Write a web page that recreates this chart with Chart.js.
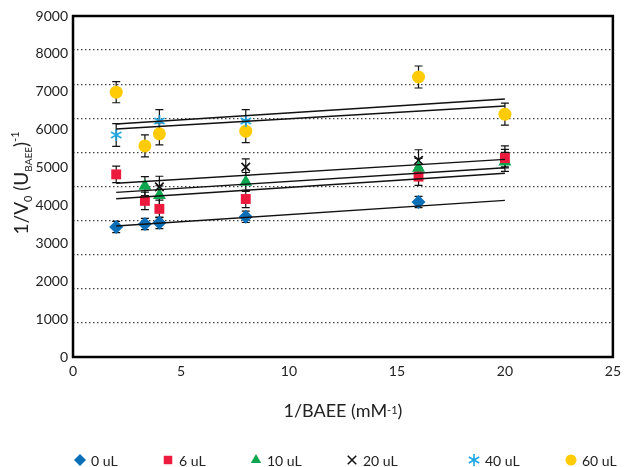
<!DOCTYPE html>
<html>
<head>
<meta charset="utf-8">
<script src="https://cdn.jsdelivr.net/npm/chart.js@4.4.1/dist/chart.umd.min.js"></script>
<style>
  html, body { margin: 0; padding: 0; background: #fff; }
</style>
</head>
<body>
<canvas id="myChart" width="627" height="467"></canvas>
<script>
// 1/BAEE values (mM-1)
const xValues = [2, 3.33, 4, 8, 16, 20];

// 1/V0 per inhibitor volume
const uL0  = [3430, 3510, 3540, 3700, 4090, null];
const uL6  = [4820, 4120, 3910, 4170, 4760, 5250];
const uL10 = [null, 4510, 4270, 4620, 4990, 5150];
const uL20 = [null, null, 4490, 5010, 5190, 5280];
const uL40 = [5860, null, 6230, 6230, null, null];
const uL60 = [6990, 5570, 5890, 5960, 7390, 6410];

// error bar half-heights
const err0  = [150, 150, 150, 150, 150, null];
const err6  = [220, 230, 230, 230, 230, 230];
const err10 = [null, 250, 250, 250, 250, 250];
const err20 = [null, null, 280, 220, 280, 290];
const err40 = [300, null, 300, 300, null, null];
const err60 = [280, 290, 290, 300, 290, 290];

// linear trendlines, value at first and last x
const trendX = [2, 20];
const trendStart = [3457, 4178, 4346, 4584, 6017, 6149];
const trendEnd   = [4135, 4848, 4996, 5217, 6624, 6809];

// axis ticks
const xTicks = [0, 5, 10, 15, 20, 25];
const yTickValues = [0, 1000, 2000, 3000, 4000, 5000, 6000, 7000, 8000, 9000];
const yGridValues = [900, 1800, 2700, 3600, 4500, 5400, 6300, 7200, 8100];

const seriesLabels = ['0 uL', '6 uL', '10 uL', '20 uL', '40 uL', '60 uL'];

const FONT = 'Lato, "Open Sans", sans-serif';

// six armed asterisk for 40 uL
function makeAsterisk(color) {
    const c = document.createElement('canvas');
    c.width = 14; c.height = 14;
    const g = c.getContext('2d');
    g.strokeStyle = color;
    g.lineWidth = 1.6;
    g.beginPath();
    for (let a = 0; a < 3; a++) {
        const ang = Math.PI / 2 + a * Math.PI / 3;
        g.moveTo(7 + 6 * Math.cos(ang), 7 + 6 * Math.sin(ang));
        g.lineTo(7 - 6 * Math.cos(ang), 7 - 6 * Math.sin(ang));
    }
    g.stroke();
    return c;
}
const asterisk = makeAsterisk('#1CA7E3');

const styles = [
    { pointStyle: 'rectRot', color: '#0B6FB8', radius: 7 },
    { pointStyle: 'rect', color: '#EC1A3D', radius: 7 },
    { pointStyle: 'triangle', color: '#0BA64E', radius: 7.5 },
    { pointStyle: 'crossRot', color: '#111', radius: 6 },
    { pointStyle: asterisk, color: '#1CA7E3', radius: 7 },
    { pointStyle: 'circle', color: '#FFCB05', radius: 6.5 }
];

const seriesValues = [uL0, uL6, uL10, uL20, uL40, uL60];
const seriesErrors = [err0, err6, err10, err20, err40, err60];

const pointSets = seriesValues.map((vals, i) => ({
    type: 'scatter',
    label: seriesLabels[i],
    data: xValues.map((x, j) => ({ x: x, y: vals[j] })),
    errors: seriesErrors[i],
    pointStyle: styles[i].pointStyle,
    pointRadius: styles[i].radius,
    pointHoverRadius: styles[i].radius,
    backgroundColor: styles[i].color,
    borderColor: styles[i].color,
    borderWidth: styles[i].pointStyle === 'crossRot' ? 1.6 : 0,
    order: 2
}));

const trendSets = trendStart.map((s, i) => ({
    type: 'line',
    label: 'trend' + i,
    data: [{ x: trendX[0], y: s }, { x: trendX[1], y: trendEnd[i] }],
    borderColor: '#111',
    borderWidth: 1.4,
    pointRadius: 0,
    fill: false,
    order: 1
}));

const frameAndErrors = {
    id: 'frameAndErrors',
    beforeDatasetsDraw(chart) {
        const { ctx, chartArea: a, scales: { x, y } } = chart;
        ctx.save();
        ctx.strokeStyle = '#000';
        ctx.lineWidth = 2.5;
        ctx.strokeRect(a.left, a.top, a.right - a.left, a.bottom - a.top);

        ctx.lineWidth = 1.2;
        ctx.strokeStyle = '#111';
        chart.data.datasets.forEach(ds => {
            if (!ds.errors) return;
            ds.data.forEach((p, j) => {
                const e = ds.errors[j];
                if (p.y == null || e == null) return;
                const px = x.getPixelForValue(p.x);
                const top = y.getPixelForValue(p.y + e);
                const bot = y.getPixelForValue(p.y - e);
                ctx.beginPath();
                ctx.moveTo(px, top); ctx.lineTo(px, bot);
                ctx.moveTo(px - 4, top); ctx.lineTo(px + 4, top);
                ctx.moveTo(px - 4, bot); ctx.lineTo(px + 4, bot);
                ctx.stroke();
            });
        });
        ctx.restore();
    }
};

// titles with sub/superscripts and the bottom legend
const titlesAndLegend = {
    id: 'titlesAndLegend',
    afterDraw(chart) {
        const { ctx, chartArea: a } = chart;
        ctx.save();
        ctx.fillStyle = '#222';
        ctx.textBaseline = 'alphabetic';

        function drawPieces(pieces, cx, cy) {
            let total = 0;
            pieces.forEach(p => { ctx.font = p[1] + 'px ' + FONT; total += ctx.measureText(p[0]).width; });
            let cur = cx - total / 2;
            pieces.forEach(p => {
                ctx.font = p[1] + 'px ' + FONT;
                ctx.textAlign = 'left';
                ctx.fillText(p[0], cur, cy + p[2]);
                cur += ctx.measureText(p[0]).width;
            });
        }

        // x title
        drawPieces([['1/BAEE (mM', 18, 0], ['-1', 11, -3], [')', 18, 0]], (a.left + a.right) / 2, 417);

        // y title
        ctx.save();
        ctx.translate(28, 183);
        ctx.rotate(-Math.PI / 2);
        drawPieces([['1/V', 19, 0], ['0', 11, 4], [' (U', 19, 0], ['BAEE', 10, 4], [')', 19, 0], ['-1', 11, -9]], 0, 0);
        ctx.restore();

        // legend
        const markerX = [80, 168, 256, 352, 474, 571];
        const ly = 460;
        seriesLabels.forEach((lab, i) => {
            const st = styles[i];
            ctx.fillStyle = st.color;
            ctx.strokeStyle = st.color;
            ctx.lineWidth = 1.5;
            Chart.helpers.drawPoint(ctx, {
                pointStyle: st.pointStyle,
                radius: st.pointStyle === 'circle' ? 5.5 : 6,
                rotation: 0,
                borderWidth: st.pointStyle === 'crossRot' ? 1.5 : 0
            }, markerX[i], ly);
            ctx.fillStyle = '#222';
            ctx.font = '14px ' + FONT;
            ctx.textAlign = 'left';
            ctx.textBaseline = 'middle';
            ctx.fillText(lab, markerX[i] + 11, ly + 1);
        });
        ctx.restore();
    }
};

const ctx = document.getElementById('myChart').getContext('2d');
const kineticsChart = new Chart(ctx, {
    type: 'scatter',
    data: { datasets: trendSets.concat(pointSets) },
    options: {
        responsive: false,
        animation: false,
        layout: { padding: { top: 16, right: 13, left: 0, bottom: 0 } },
        plugins: {
            legend: { display: false },
            tooltip: { enabled: false }
        },
        scales: {
            x: {
                type: 'linear',
                min: 0,
                max: 25,
                afterBuildTicks: scale => { scale.ticks = xTicks.map(v => ({ value: v })); },
                afterFit: scale => { scale.height = 110; },
                grid: { display: false, drawTicks: false },
                border: { display: false },
                ticks: { color: '#222', font: { family: FONT, size: 14 }, padding: 6 }
            },
            y: {
                type: 'linear',
                min: 0,
                max: 9000,
                afterBuildTicks: scale => {
                    const all = yTickValues.concat(yGridValues).sort((p, q) => p - q);
                    scale.ticks = all.map(v => ({ value: v }));
                },
                afterFit: scale => { scale.width = 73; },
                grid: {
                    drawTicks: false,
                    color: c => yGridValues.includes(c.tick.value) ? '#444' : 'rgba(0,0,0,0)',
                    lineWidth: 1.2
                },
                border: { display: false, dash: [1.5, 2.5] },
                ticks: {
                    autoSkip: false,
                    color: '#222',
                    font: { family: FONT, size: 14 },
                    padding: 5,
                    callback: v => yTickValues.includes(v) ? String(v) : ''
                }
            }
        }
    },
    plugins: [frameAndErrors, titlesAndLegend]
});
</script>
</body>
</html>
